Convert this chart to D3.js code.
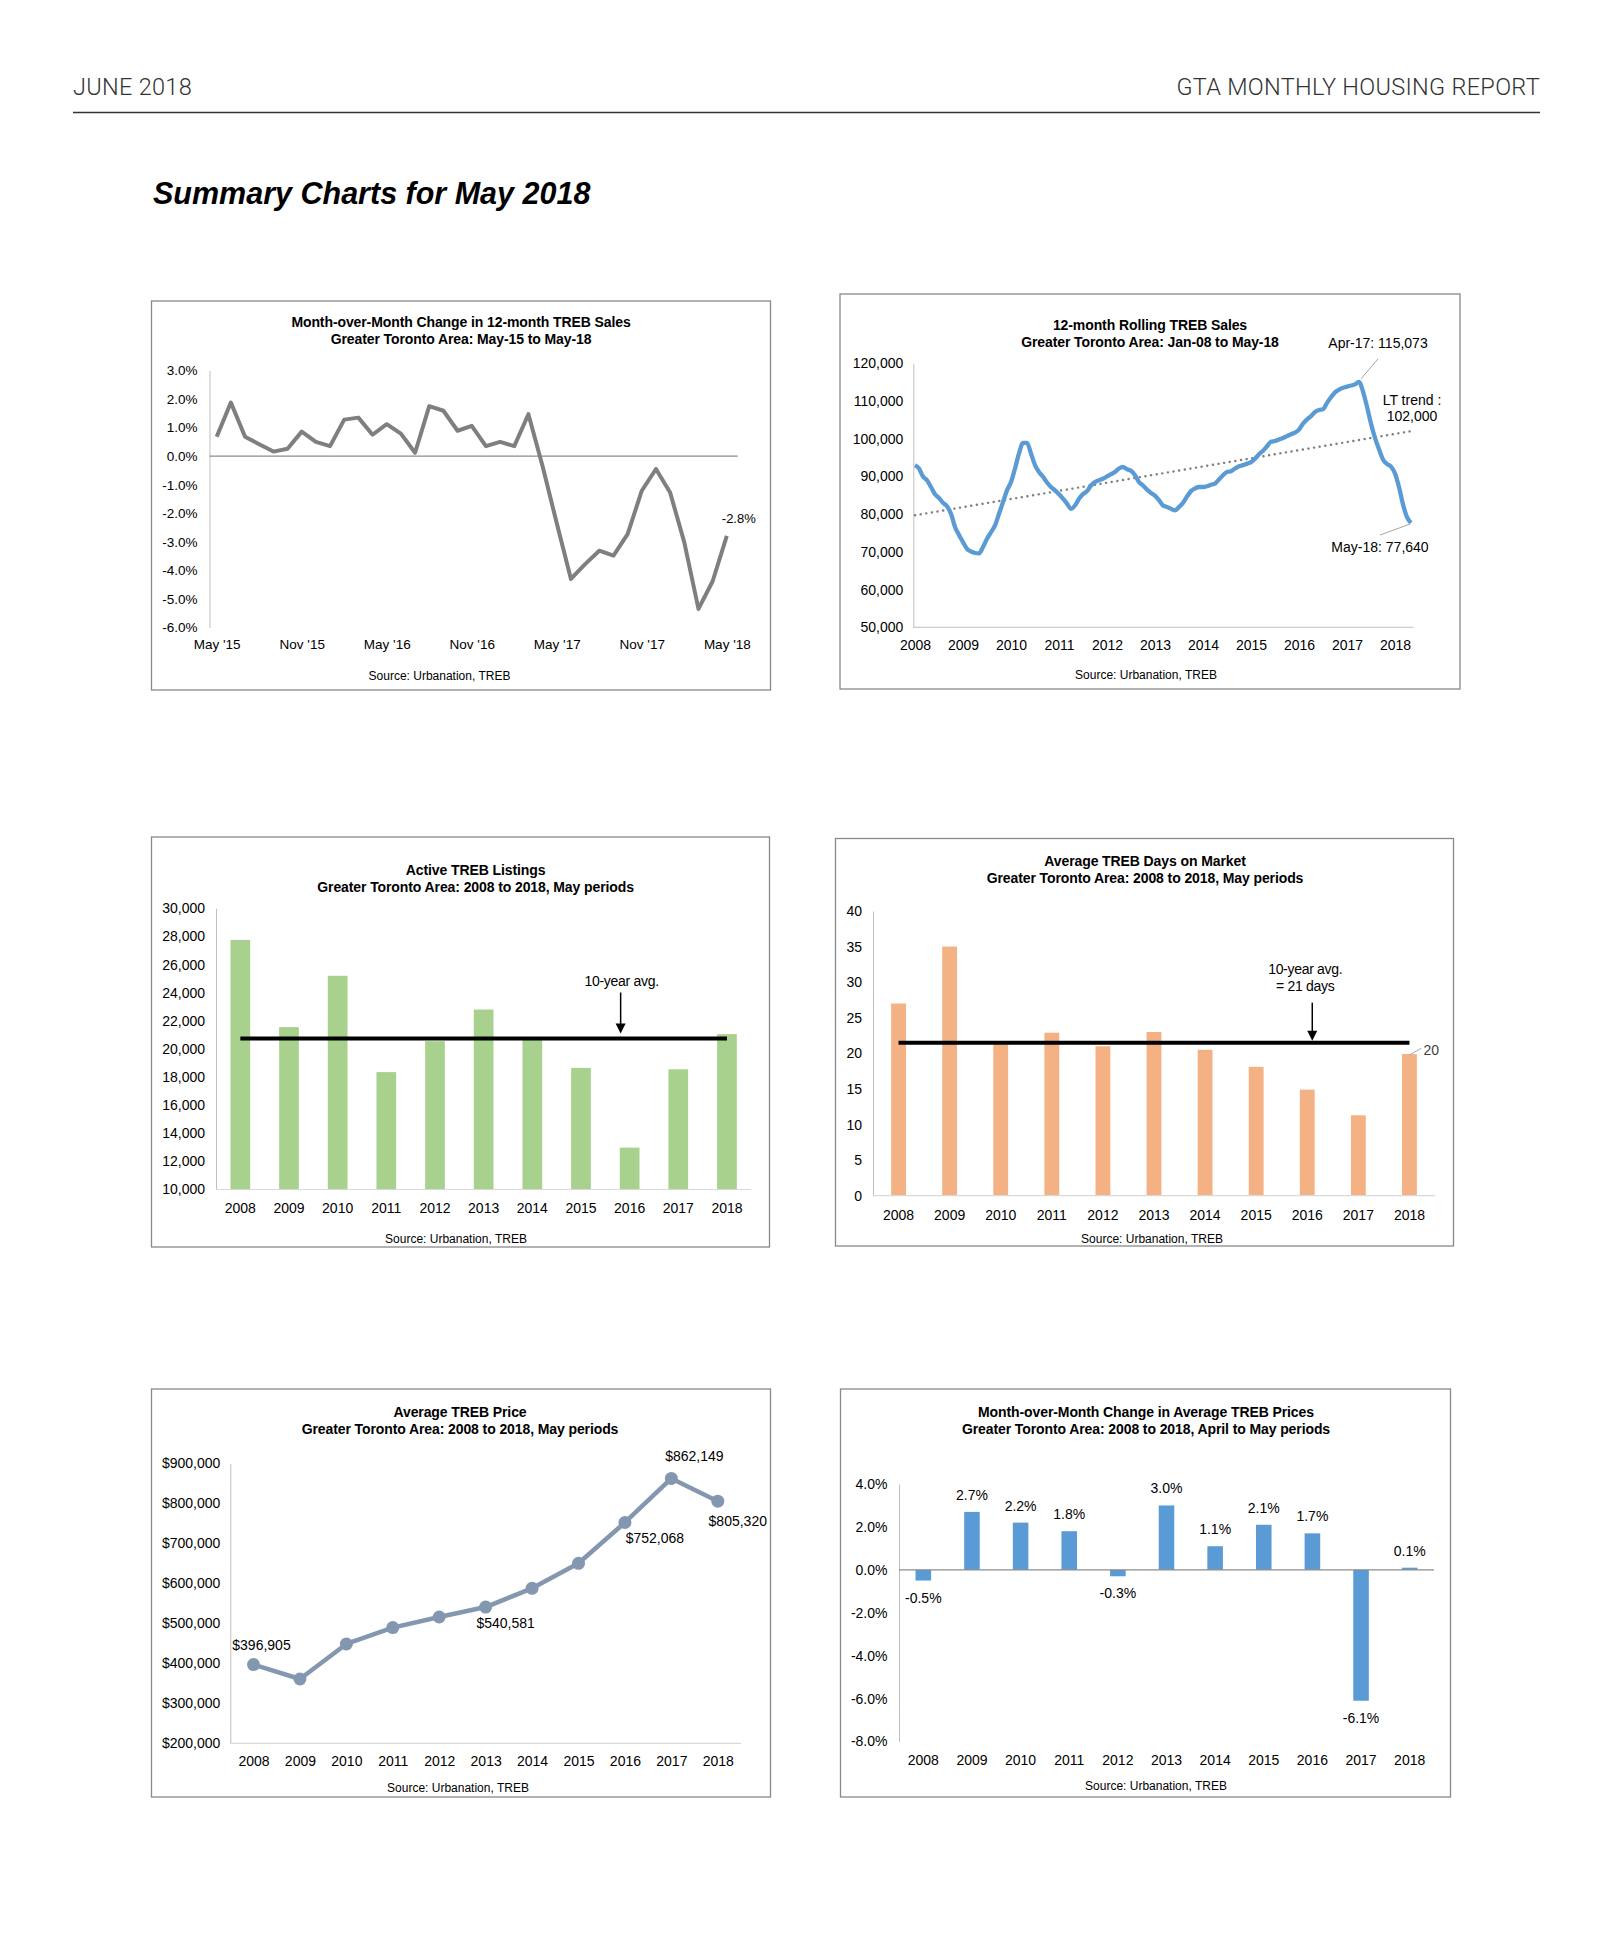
<!DOCTYPE html>
<html>
<head>
<meta charset="utf-8">
<script src="https://cdn.jsdelivr.net/npm/d3@7"></script>
<style>
  body { margin: 0; background: #fff; }
</style>
</head>
<body>
<div id="display"></div>
<script>
const FONT = '"Liberation Sans", Arial, Helvetica, sans-serif';

// Month-over-month change in 12-month TREB sales, May-15 to May-18 (%)
const momChange = [0.68, 1.88, 0.68, 0.42, 0.16, 0.26, 0.86, 0.50, 0.35, 1.28, 1.35, 0.75,
  1.12, 0.79, 0.12, 1.75, 1.59, 0.89, 1.06, 0.35, 0.50, 0.35, 1.47, -0.35,
  -2.35, -4.30, -3.78, -3.31, -3.48, -2.73, -1.21, -0.45, -1.27, -3.02, -5.35, -4.38, -2.79];
const momTicks = ["May '15", "Nov '15", "May '16", "Nov '16", "May '17", "Nov '17", "May '18"];

// 12-month rolling TREB sales, Jan-08 to May-18
const rollingSales = [
  93000, 92100, 90000, 89000, 87200, 85300, 84300, 83000, 82100, 80100, 76600, 74500,
  72600, 70800, 70100, 69700, 69600, 71300, 73500, 75200, 77000, 80100, 83200, 86300,
  88500, 92100, 96100, 98900, 98900, 96100, 93000, 91200, 89900, 88400, 87200, 86300,
  85300, 84100, 82800, 81400, 82300, 84100, 85300, 86100, 87600, 88500, 89000, 89400,
  90000, 90600, 91200, 92100, 92500, 91900, 91500, 90300, 88500, 87600, 86500, 85600,
  84900, 83700, 82300, 81900, 81400, 81000, 81900, 83000, 84700, 86100, 86800, 87200,
  87200, 87400, 87800, 88100, 89200, 90300, 91200, 91400, 92100, 92700, 93000, 93400,
  93800, 94700, 95900, 96800, 98000, 99200, 99400, 99800, 100200, 100700, 101200, 101600,
  102400, 104000, 105100, 106000, 107100, 107600, 107800, 109500, 111000, 112300, 113000, 113500,
  113800, 114100, 114400, 115073, 112500, 108500, 104000, 100200, 97200, 94500, 93300, 92600,
  90800, 87200, 82600, 79200, 77640];
const salesTrend = [79700, 102000];
const salesPeakIndex = 111;   // Apr-17

const years = ['2008', '2009', '2010', '2011', '2012', '2013', '2014', '2015', '2016', '2017', '2018'];

// May periods
const activeListings = [27750, 21550, 25200, 18350, 20550, 22800, 20700, 18650, 12980, 18550, 21050];
const listingsAvg = 20740;
const daysOnMarket = [27.0, 35.0, 21.3, 22.9, 21.0, 23.0, 20.5, 18.1, 14.9, 11.3, 19.9];
const daysAvg = 21.5;
const avgPrice = [396905, 360800, 448300, 489200, 515800, 540581, 587500, 650000, 752068, 862149, 805320];
const priceChange = [-0.5, 2.7, 2.2, 1.8, -0.3, 3.0, 1.1, 2.1, 1.7, -6.1, 0.1];

const svg = d3.select('#display').append('svg')
  .attr('width', 1606).attr('height', 1958)
  .attr('font-family', FONT);

// page header
svg.append('text').attr('x', 73).attr('y', 95).text('JUNE 2018')
  .attr('font-family', 'Roboto, ' + FONT).attr('font-weight', 300).attr('font-size', 23.5)
  .attr('letter-spacing', 0.3).attr('fill', '#333');
svg.append('text').attr('x', 1540).attr('y', 95).attr('text-anchor', 'end').text('GTA MONTHLY HOUSING REPORT')
  .attr('font-family', 'Roboto, ' + FONT).attr('font-weight', 300).attr('font-size', 23.5)
  .attr('letter-spacing', 0.3).attr('fill', '#333');
svg.append('line').attr('x1', 73).attr('x2', 1540).attr('y1', 112.5).attr('y2', 112.5)
  .attr('stroke', '#333').attr('stroke-width', 1.4);
svg.append('text').attr('x', 153).attr('y', 204).text('Summary Charts for May 2018')
  .attr('font-size', 30.5).attr('font-weight', 'bold').attr('font-style', 'italic');

function frame(x, y, w, h) {
  svg.append('rect').attr('x', x).attr('y', y).attr('width', w).attr('height', h)
    .attr('fill', 'none').attr('stroke', '#898989').attr('stroke-width', 1.3);
}
function titles(cx, y, lines) {
  lines.forEach(function (t, i) {
    svg.append('text').attr('x', cx).attr('y', y + i * 17).attr('text-anchor', 'middle')
      .attr('font-size', 14).attr('font-weight', 'bold').attr('letter-spacing', -0.1).text(t);
  });
}
function source(cx, y) {
  svg.append('text').attr('x', cx).attr('y', y).attr('text-anchor', 'middle')
    .attr('font-size', 12).text('Source: Urbanation, TREB');
}
function leftAxis(scale, ticks, fmt, x, pad, size) {
  const g = svg.append('g').attr('transform', `translate(${x},0)`)
    .call(d3.axisLeft(scale).tickValues(ticks).tickFormat(fmt).tickSize(0).tickPadding(pad));
  g.attr('font-family', FONT).attr('font-size', size);
  g.select('.domain').attr('stroke', '#bfbfbf');
  g.selectAll('text').attr('fill', '#000');
  return g;
}
function bottomLabels(scale, ticks, fmt, y, size) {
  const axis = d3.axisBottom(scale).tickSize(0).tickPadding(0);
  if (ticks) axis.tickValues(ticks);
  if (fmt) axis.tickFormat(fmt);
  const g = svg.append('g').attr('transform', `translate(0,${y})`).call(axis);
  g.attr('font-family', FONT).attr('font-size', size);
  g.select('.domain').remove();
  g.selectAll('text').attr('dy', null).attr('y', 0).attr('fill', '#000');
  return g;
}
function hline(x1, x2, y, color, w) {
  svg.append('line').attr('x1', x1).attr('x2', x2).attr('y1', y).attr('y2', y)
    .attr('stroke', color).attr('stroke-width', w);
}
function arrow(x, y1, y2) {
  svg.append('line').attr('x1', x).attr('x2', x).attr('y1', y1).attr('y2', y2 - 8)
    .attr('stroke', '#000').attr('stroke-width', 1.5);
  svg.append('path').attr('d', `M${x - 5},${y2 - 10}L${x + 5},${y2 - 10}L${x},${y2}Z`).attr('fill', '#000');
}
const pct = d => d.toFixed(1) + '%';

// ---- chart 1: month-over-month change in 12-month sales
frame(151.5, 301, 619, 389);
titles(461, 327, ['Month-over-Month Change in 12-month TREB Sales', 'Greater Toronto Area: May-15 to May-18']);
const c1x = d3.scaleLinear().domain([0, momChange.length - 1]).range([216.7, 726.8]);
const c1y = d3.scaleLinear().domain([-6, 3]).range([627.5, 370.5]);
leftAxis(c1y, d3.range(-6, 3.01, 1), pct, 209.5, 12, 13.5);
hline(209.5, 737.7, c1y(0), '#8c8c8c', 1.2);
bottomLabels(c1x, d3.range(0, momChange.length, 6), i => momTicks[i / 6], 649, 13.5);
svg.append('path').datum(momChange)
  .attr('d', d3.line().x((d, i) => c1x(i)).y(d => c1y(d)))
  .attr('fill', 'none').attr('stroke', '#7f7f7f').attr('stroke-width', 4).attr('stroke-linejoin', 'round');
const lastMom = momChange.length - 1;
svg.append('text').attr('x', c1x(lastMom) + 12).attr('y', c1y(momChange[lastMom]) - 13)
  .attr('text-anchor', 'middle').attr('font-size', 13).text(pct(momChange[lastMom]));
source(439.5, 680);

// ---- chart 2: 12-month rolling sales
frame(840, 294, 620, 395);
titles(1150, 330, ['12-month Rolling TREB Sales', 'Greater Toronto Area: Jan-08 to May-18']);
const c2x = d3.scaleLinear().domain([0, rollingSales.length - 1]).range([915, 1411]);
const c2y = d3.scaleLinear().domain([50000, 120000]).range([627.3, 363.3]);
leftAxis(c2y, d3.range(50000, 120001, 10000), d3.format(','), 913.3, 10, 14);
hline(913.3, 1413.4, c2y(50000), '#bfbfbf', 1);
bottomLabels(c2x, d3.range(0, rollingSales.length, 12), i => years[i / 12], 650, 14);
svg.append('line')
  .attr('x1', c2x(0)).attr('y1', c2y(salesTrend[0]))
  .attr('x2', c2x(rollingSales.length - 1)).attr('y2', c2y(salesTrend[1]))
  .attr('stroke', '#7f7f7f').attr('stroke-width', 2.4).attr('stroke-linecap', 'round')
  .attr('stroke-dasharray', '0.1,5.6');
svg.append('path').datum(rollingSales)
  .attr('d', d3.line().x((d, i) => c2x(i)).y(d => c2y(d)).curve(d3.curveMonotoneX))
  .attr('fill', 'none').attr('stroke', '#5b9bd5').attr('stroke-width', 4.3).attr('stroke-linejoin', 'round');
// annotations
const pkX = c2x(salesPeakIndex), pkY = c2y(rollingSales[salesPeakIndex]);
svg.append('line').attr('x1', pkX + 2).attr('y1', pkY - 3).attr('x2', pkX + 19).attr('y2', pkY - 23)
  .attr('stroke', '#a6a6a6').attr('stroke-width', 1);
svg.append('text').attr('x', pkX + 19).attr('y', pkY - 34).attr('text-anchor', 'middle').attr('font-size', 14)
  .text('Apr-17: ' + d3.format(',')(rollingSales[salesPeakIndex]));
const lastS = rollingSales.length - 1;
const enX = c2x(lastS), enY = c2y(rollingSales[lastS]);
svg.append('line').attr('x1', enX - 1).attr('y1', enY + 1).attr('x2', enX - 31).attr('y2', enY + 12)
  .attr('stroke', '#a6a6a6').attr('stroke-width', 1);
svg.append('text').attr('x', enX - 31).attr('y', enY + 29).attr('text-anchor', 'middle').attr('font-size', 14)
  .text('May-18: ' + d3.format(',')(rollingSales[lastS]));
const trY = c2y(salesTrend[1]);
svg.append('text').attr('x', enX + 1).attr('y', trY - 26).attr('text-anchor', 'middle').attr('font-size', 14).text('LT trend :');
svg.append('text').attr('x', enX + 1).attr('y', trY - 10).attr('text-anchor', 'middle').attr('font-size', 14)
  .text(d3.format(',')(salesTrend[1]));
source(1146, 679);

// ---- chart 3: active listings
frame(151.5, 837, 618, 410);
titles(475.6, 875, ['Active TREB Listings', 'Greater Toronto Area: 2008 to 2018, May periods']);
const c3x = d3.scaleBand().domain(years).range([216, 751.3]).paddingInner(0.595).paddingOuter(0.2975);
const c3y = d3.scaleLinear().domain([10000, 30000]).range([1189.5, 908.3]);
leftAxis(c3y, d3.range(10000, 30001, 2000), d3.format(','), 216, 11, 14);
svg.append('g').selectAll('rect').data(activeListings).enter().append('rect')
  .attr('x', (d, i) => c3x(years[i])).attr('width', c3x.bandwidth())
  .attr('y', d => c3y(d)).attr('height', d => c3y(10000) - c3y(d))
  .attr('fill', '#a9d18e');
hline(216, 751.3, c3y(10000), '#d9d9d9', 1.2);
bottomLabels(c3x, null, null, 1213, 14);
const c3mid = c3x.bandwidth() / 2;
hline(c3x(years[0]) + c3mid, c3x(years[10]) + c3mid, c3y(listingsAvg), '#000', 4);
const a3x = c3x('2016') + c3mid - 9;
arrow(a3x, c3y(listingsAvg) - 46, c3y(listingsAvg) - 5);
svg.append('text').attr('x', a3x + 1).attr('y', c3y(listingsAvg) - 52).attr('text-anchor', 'middle')
  .attr('font-size', 14).attr('letter-spacing', -0.3).text('10-year avg.');
source(456, 1243);

// ---- chart 4: days on market
frame(835.5, 838.5, 618, 407.5);
titles(1145, 866, ['Average TREB Days on Market', 'Greater Toronto Area: 2008 to 2018, May periods']);
const c4x = d3.scaleBand().domain(years).range([873, 1435]).paddingInner(0.71).paddingOuter(0.355);
const c4y = d3.scaleLinear().domain([0, 40]).range([1195.7, 911]);
leftAxis(c4y, d3.range(0, 41, 5), d3.format('d'), 873, 11, 14);
svg.append('g').selectAll('rect').data(daysOnMarket).enter().append('rect')
  .attr('x', (d, i) => c4x(years[i])).attr('width', c4x.bandwidth())
  .attr('y', d => c4y(d)).attr('height', d => c4y(0) - c4y(d))
  .attr('fill', '#f4b183');
hline(873, 1435, c4y(0), '#d9d9d9', 1.2);
bottomLabels(c4x, null, null, 1220, 14);
const c4mid = c4x.bandwidth() / 2;
hline(c4x(years[0]) + c4mid, c4x(years[10]) + c4mid, c4y(daysAvg), '#000', 4);
const a4x = c4x('2016') + c4mid + 5;
arrow(a4x, c4y(daysAvg) - 40, c4y(daysAvg) - 2);
svg.append('text').attr('x', a4x - 7).attr('y', c4y(daysAvg) - 69).attr('text-anchor', 'middle')
  .attr('font-size', 14).attr('letter-spacing', -0.3).text('10-year avg.');
svg.append('text').attr('x', a4x - 7).attr('y', c4y(daysAvg) - 52).attr('text-anchor', 'middle')
  .attr('font-size', 14).attr('letter-spacing', -0.3).text('= 21 days');
const l4x = c4x('2018') + c4mid, l4y = c4y(daysOnMarket[10]);
svg.append('line').attr('x1', l4x).attr('y1', l4y + 1).attr('x2', l4x + 12).attr('y2', l4y - 6)
  .attr('stroke', '#a6a6a6').attr('stroke-width', 1);
svg.append('text').attr('x', l4x + 14).attr('y', l4y + 1).attr('font-size', 14)
  .attr('fill', '#404040').text(Math.round(daysOnMarket[10]));
source(1152, 1243);

// ---- chart 5: average price
frame(151.5, 1389, 619, 408);
titles(460, 1417, ['Average TREB Price', 'Greater Toronto Area: 2008 to 2018, May periods']);
const c5x = d3.scalePoint().domain(years).range([230.3, 741]).padding(0.5);
const c5y = d3.scaleLinear().domain([200000, 900000]).range([1743.3, 1463.3]);
leftAxis(c5y, d3.range(200000, 900001, 100000), d3.format('$,'), 230.3, 10, 14);
hline(230.3, 741, c5y(200000), '#d9d9d9', 1.2);
bottomLabels(c5x, null, null, 1766, 14);
svg.append('path').datum(avgPrice)
  .attr('d', d3.line().x((d, i) => c5x(years[i])).y(d => c5y(d)))
  .attr('fill', 'none').attr('stroke', '#8497b0').attr('stroke-width', 4.5).attr('stroke-linejoin', 'round');
svg.append('g').selectAll('circle').data(avgPrice).enter().append('circle')
  .attr('cx', (d, i) => c5x(years[i])).attr('cy', d => c5y(d)).attr('r', 6.5)
  .attr('fill', '#8497b0');
const priceLabelAt = { '2008': [8, -15], '2013': [20, 21], '2016': [30, 21], '2017': [23, -17], '2018': [20, 25] };
Object.keys(priceLabelAt).forEach(function (yr) {
  const i = years.indexOf(yr), off = priceLabelAt[yr];
  svg.append('text').attr('x', c5x(yr) + off[0]).attr('y', c5y(avgPrice[i]) + off[1])
    .attr('text-anchor', 'middle').attr('font-size', 14).text(d3.format('$,')(avgPrice[i]));
});
source(458, 1792);

// ---- chart 6: month-over-month change in average price
frame(840.5, 1389, 610, 408);
titles(1146, 1417, ['Month-over-Month Change in Average TREB Prices', 'Greater Toronto Area: 2008 to 2018, April to May periods']);
const c6x = d3.scaleBand().domain(years).range([899, 1434]).paddingInner(0.68).paddingOuter(0.34);
const c6y = d3.scaleLinear().domain([-8, 4]).range([1741.5, 1484]);
leftAxis(c6y, d3.range(-8, 4.01, 2), pct, 899, 11.5, 14);
svg.append('g').selectAll('rect').data(priceChange).enter().append('rect')
  .attr('x', (d, i) => c6x(years[i])).attr('width', c6x.bandwidth())
  .attr('y', d => c6y(Math.max(0, d))).attr('height', d => Math.abs(c6y(d) - c6y(0)))
  .attr('fill', '#5b9bd5');
hline(899, 1434, c6y(0), '#8c8c8c', 1.2);
svg.append('g').selectAll('text').data(priceChange).enter().append('text')
  .attr('x', (d, i) => c6x(years[i]) + c6x.bandwidth() / 2)
  .attr('y', d => d >= 0 ? c6y(d) - 12 : c6y(d) + 22)
  .attr('text-anchor', 'middle').attr('font-size', 14).text(pct);
bottomLabels(c6x, null, null, 1765, 14);
source(1156, 1790);
</script>
</body>
</html>
